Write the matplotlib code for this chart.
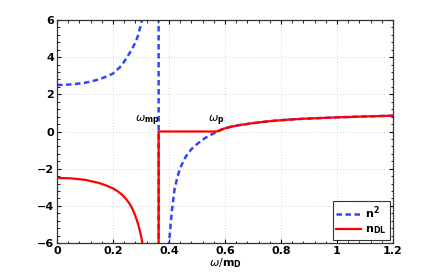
import matplotlib
matplotlib.use('Agg')
import matplotlib.pyplot as plt
from matplotlib.ticker import MultipleLocator

# n^2 (blue dashed); jumps at the pole w_mp ~ 0.363
w_n2 = [0, 0.05, 0.1, 0.15, 0.183, 0.2, 0.231, 0.249, 0.267, 0.28, 0.288, 0.297,
        0.305, 0.32, 0.34, 0.35, 0.357, 0.362,
        0.364, 0.37, 0.38, 0.39, 0.40, 0.41, 0.42, 0.43, 0.44, 0.46, 0.48, 0.50,
        0.52, 0.54, 0.56, 0.575, 0.59, 0.6, 0.62, 0.65, 0.7, 0.75, 0.8, 0.85,
        0.9, 1.0, 1.1, 1.2]
n2 = [2.5, 2.53, 2.62, 2.8, 3.0, 3.12, 3.55, 3.98, 4.4, 4.8, 5.1, 5.6,
      6.1, 7.5, 11, 16, 28, 100,
      -100, -40, -15, -8.5, -6.0, -4.3, -3.1, -2.45, -1.95, -1.35, -0.95, -0.68,
      -0.44, -0.25, -0.1, 0.0, 0.12, 0.17, 0.25, 0.34, 0.45, 0.54, 0.61, 0.66,
      0.70, 0.76, 0.81, 0.85]

# n_DL (red solid)
w_dl = [0, 0.05, 0.1, 0.15, 0.175, 0.2, 0.215, 0.23, 0.245, 0.26, 0.27, 0.28,
        0.29, 0.30, 0.31, 0.32, 0.34, 0.355, 0.363,
        0.363, 0.57, 0.58, 0.59, 0.6, 0.62, 0.65, 0.7, 0.75, 0.8, 0.85, 0.9,
        1.0, 1.1, 1.2]
n_dl = [-2.5, -2.52, -2.6, -2.77, -2.9, -3.06, -3.2, -3.37, -3.6, -3.9, -4.18, -4.55,
        -5.0, -5.6, -6.4, -7.5, -11, -20, -100,
        0, 0, 0.06, 0.12, 0.17, 0.25, 0.34, 0.45, 0.54, 0.61, 0.66, 0.70,
        0.76, 0.81, 0.85]

fig = plt.figure(figsize=(4.34, 2.73), dpi=100)
ax = fig.add_axes([57/434, 30/273, 336/434, 223/273])

ax.plot(w_n2, n2, '--', color='#2f45ff', lw=1.8, dashes=(2.2, 1.4), label=r'$\mathbf{n^2}$')
ax.plot(w_dl, n_dl, '-', color='#ff0000', lw=1.6, label=r'$\mathbf{n_{DL}}$')

ax.set_xlim(0, 1.2)
ax.set_ylim(-6, 6)
ax.xaxis.set_minor_locator(MultipleLocator(0.04))
ax.yaxis.set_major_locator(MultipleLocator(2))
ax.yaxis.set_minor_locator(MultipleLocator(0.4))
ax.set_xticks([0, 0.2, 0.4, 0.6, 0.8, 1, 1.2])
ax.set_xticklabels(['0', '0.2', '0.4', '0.6', '0.8', '1', '1.2'])
ax.tick_params(which='both', direction='in', top=True, right=True, labelsize=8, pad=2)
ax.tick_params(which='major', length=3)
ax.tick_params(which='minor', length=1.8)
for lab in ax.get_xticklabels() + ax.get_yticklabels():
    lab.set_fontweight('bold')
for s in ax.spines.values():
    s.set_color('#333333')
    s.set_linewidth(0.9)
ax.grid(True, which='major', linestyle=(0, (1, 2.5)), color='#c4c4c4', lw=0.6)

ax.text(0.28, 0.6, r'$\omega_{\mathbf{mp}}$', fontsize=8, va='center')
ax.text(0.54, 0.6, r'$\omega_{\mathbf{p}}$', fontsize=8, va='center')
ax.set_xlabel(r'$\omega/\mathbf{m_D}$', fontsize=8, labelpad=0)

leg = ax.legend(loc='lower right', fontsize=8, frameon=True, fancybox=False,
                handlelength=2.2, borderpad=0.3, labelspacing=0.3, handletextpad=0.4,
                borderaxespad=0.3)
leg.get_frame().set_edgecolor('black')
leg.get_frame().set_linewidth(0.8)

plt.savefig('out.png', dpi=100)
